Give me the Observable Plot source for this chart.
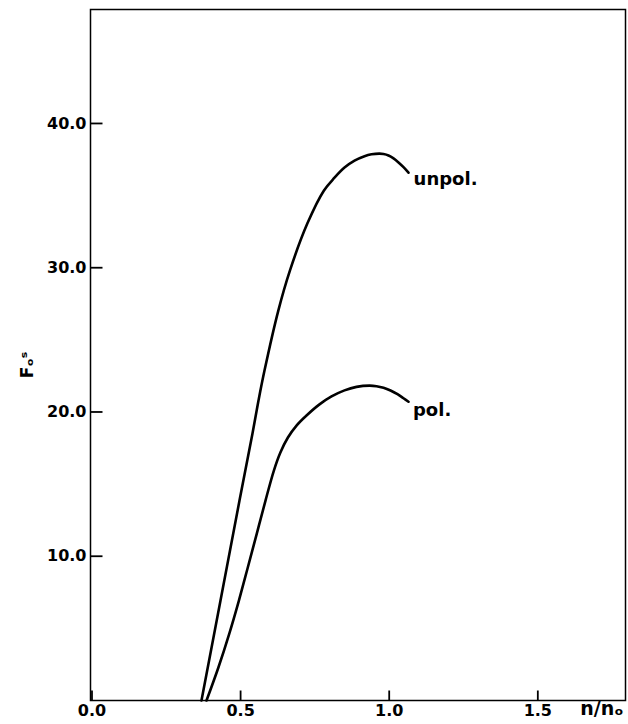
<!DOCTYPE html>
<html><head><meta charset="utf-8">
<script src="https://cdn.jsdelivr.net/npm/d3@7"></script>
<script src="https://cdn.jsdelivr.net/npm/@observablehq/plot@0.6"></script>
<style>body{margin:0;background:#fff}</style>
</head><body><div id="chart"></div>
<script>
// unpolarized curve
const unpolX = [0.3684, 0.4324, 0.4963, 0.5400, 0.5602, 0.5804, 0.6269, 0.6659, 0.7245, 0.7800, 0.8160, 0.8496, 0.8833, 0.9169, 0.9405, 0.9674, 0.9808, 0.9976, 1.0145, 1.0313, 1.0481, 1.0649];
const unpolY = [0, 6.93, 13.86, 18.50, 20.79, 22.87, 27.03, 29.80, 33.06, 35.34, 36.24, 36.94, 37.42, 37.73, 37.86, 37.91, 37.88, 37.78, 37.58, 37.30, 36.97, 36.59];
// polarized curve
const polX = [0.3853, 0.4253, 0.4620, 0.4943, 0.5242, 0.5545, 0.5838, 0.6120, 0.6339, 0.6592, 0.6881, 0.7218, 0.7655, 0.8059, 0.8496, 0.8900, 0.9337, 0.9573, 0.9808, 1.0044, 1.0279, 1.0481, 1.0649];
const polY = [0, 2.29, 4.64, 6.93, 9.22, 11.57, 13.86, 15.94, 17.19, 18.23, 19.06, 19.76, 20.53, 21.08, 21.50, 21.74, 21.83, 21.79, 21.68, 21.49, 21.23, 20.95, 20.71];
// curve labels
const labelNames = ["unpol.", "pol."];
const labelX = [1.082, 1.080];
const labelY = [36.1, 20.1];
// ticks
const xTicks = [0, 0.5, 1.0, 1.5];
const xTickLabels = ["0.0", "0.5", "1.0", "1.5"];
const yTicks = [10, 20, 30, 40];
const yTickLabels = ["10.0", "20.0", "30.0", "40.0"];
const xLabel = "n/n\u2092";
const yLabel = "F\u2092\u02E2";

const unpol = unpolX.map((x, i) => ({x, y: unpolY[i]}));
const pol = polX.map((x, i) => ({x, y: polY[i]}));
const labels = labelNames.map((t, i) => ({t, x: labelX[i], y: labelY[i]}));

const xDomain = [-0.005, 1.795];
const yDomain = [0, 47.9];
const W = 628, H = 724, mL = 90, mR = 3, mT = 9, mB = 24;
// inward tick lengths (12px on y axis, 10px on x axis) expressed through the scales
const yTickLen = 12 * (xDomain[1] - xDomain[0]) / (W - mL - mR);
const xTickLen = 10 * (yDomain[1] - yDomain[0]) / (H - mT - mB);

const font = "'DejaVu Sans', sans-serif";
const chart = Plot.plot({
  width: W, height: H,
  marginLeft: mL, marginRight: mR, marginTop: mT, marginBottom: mB,
  style: {background: "#fff", color: "#000", fontFamily: font},
  x: {domain: xDomain},
  y: {domain: yDomain},
  marks: [
    Plot.frame({stroke: "#000", strokeWidth: 1.5}),
    Plot.link(xTicks, {x1: d => d, x2: d => d, y1: () => yDomain[0], y2: () => yDomain[0] + xTickLen, stroke: "#000", strokeWidth: 1.8}),
    Plot.link(yTicks, {y1: d => d, y2: d => d, x1: () => xDomain[0], x2: () => xDomain[0] + yTickLen, stroke: "#000", strokeWidth: 1.8}),
    Plot.axisX(xTicks, {tickSize: 0, tickPadding: 4, tickFormat: (d, i) => xTickLabels[i], fontSize: 16, fontWeight: "bold", label: null}),
    Plot.axisY(yTicks, {tickSize: 0, tickPadding: 4, tickFormat: (d, i) => yTickLabels[i], fontSize: 16, fontWeight: "bold", label: null}),
    Plot.line(unpol, {x: "x", y: "y", curve: "catmull-rom", stroke: "#000", strokeWidth: 2.6}),
    Plot.line(pol, {x: "x", y: "y", curve: "catmull-rom", stroke: "#000", strokeWidth: 2.6}),
    Plot.text(labels, {x: "x", y: "y", text: "t", textAnchor: "start", fontSize: 18, fontWeight: "bold", fill: "#000"}),
    Plot.text([xLabel], {frameAnchor: "bottom-right", text: d => d, textAnchor: "end", lineAnchor: "top", dx: -2, dy: 1, fontSize: 19, fontWeight: "bold", fill: "#000"}),
    Plot.text([yLabel], {frameAnchor: "left", text: d => d, rotate: -90, textAnchor: "middle", lineAnchor: "middle", dx: -63, dy: 10, fontSize: 17, fontWeight: "bold", fill: "#000"})
  ]
});
document.getElementById("chart").appendChild(chart);
</script>
</body></html>
